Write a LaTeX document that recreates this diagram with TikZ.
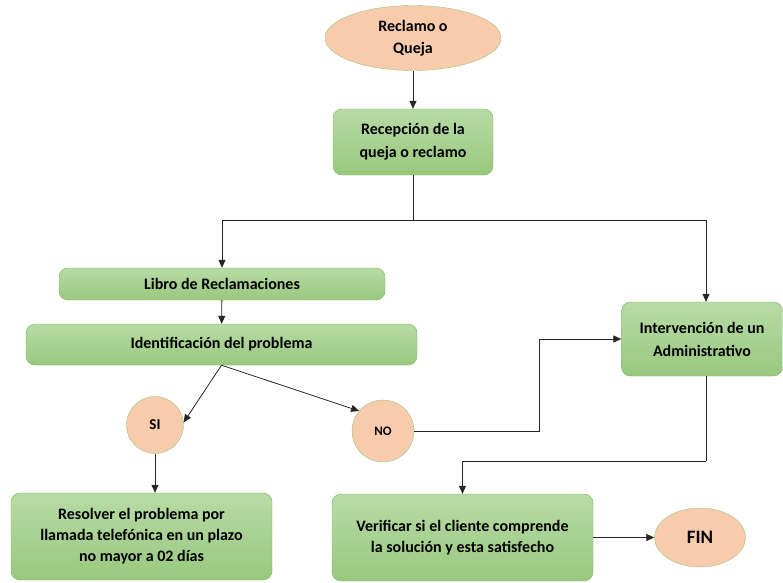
\documentclass[tikz,border=0pt]{standalone}
\usepackage{fontspec}
\setmainfont{Carlito}
\usetikzlibrary{shapes.geometric, arrows.meta, positioning}
\definecolor{procTop}{RGB}{184,219,166}
\definecolor{procBot}{RGB}{152,200,126}
\definecolor{procLine}{RGB}{122,180,90}
\definecolor{termFill}{RGB}{248,203,173}
\definecolor{termLine}{RGB}{150,200,120}

\begin{document}
\begin{tikzpicture}[
    x=1pt, y=-1pt,
    proc/.style={
      draw=procLine, rounded corners=9pt, align=center, top color=procTop,
      bottom color=procBot, font=\bfseries\fontsize{16}{21}\selectfont, inner sep=2pt
    },
    term/.style={
      ellipse, draw=termLine, fill=termFill, align=center, inner sep=0pt,
      font=\bfseries\fontsize{16}{22}\selectfont
    },
    deci/.style={
      circle, draw=termLine, fill=termFill, inner sep=0pt,
      font=\bfseries\fontsize{15}{17}\selectfont
    },
    fl/.style={-{Triangle[length=8pt, width=7pt]}, line width=0.8pt, draw=black!85},
    ln/.style={line width=0.8pt, draw=black!85}
  ]
    \useasboundingbox (0,0) rectangle (783,582);

    % --- inicio ---
    \node[term, minimum width=176pt, minimum height=65pt] (rq) at (413,38) {Reclamo o\\Queja};
    \node[proc, minimum width=160pt, minimum height=66pt, font=\bfseries\fontsize{16}{23}\selectfont] (rec) at (413,142) {Recepción de la\\queja o reclamo};
    \coordinate (split) at (413,220);

    % --- rama izquierda ---
    \node[proc, minimum width=326pt, minimum height=32pt] (lib) at (222,284) {Libro de Reclamaciones};
    \node[proc, minimum width=391pt, minimum height=41pt] (ide) at (221.5,344.5) {Identificación del problema};
    \node[deci, minimum size=57pt] (si) at (155,425) {SI};
    \node[deci, minimum size=62pt, font=\bfseries\fontsize{13}{15}\selectfont] (no) at (383,431) {NO};
    \node[proc, minimum width=261pt, minimum height=87pt] (res) at (141.5,536.5)
      {Resolver el problema por\\llamada telefónica en un plazo\\no mayor a 02 días};

    % --- rama derecha ---
    \node[proc, minimum width=161pt, minimum height=74pt, font=\bfseries\fontsize{16}{23}\selectfont] (adm) at (702,339) {Intervención de un\\Administrativo};
    \node[proc, minimum width=261pt, minimum height=87pt] (ver) at (462.5,537.5)
      {Verificar si el cliente comprende\\la solución y esta satisfecho};
    \node[term, minimum width=91pt, minimum height=59pt, font=\bfseries\fontsize{19}{22}\selectfont] (fin) at (700,537.5) {FIN};
    \coordinate (nobend) at (539,431);
    \coordinate (admbend) at (706,461);

    % --- conectores ---
    \draw[fl] (rq) -- (rec);
    \draw[ln] (rec) -- (split);
    \draw[fl] (split) -| (lib);
    \draw[fl] (split) -| ([xshift=4pt]adm.north);
    \draw[fl] (lib) -- (ide);
    \draw[fl] (ide.south) -- (si.5);
    \draw[fl] (ide.south) -- (no.140);
    \draw[fl] (si) -- (si |- res.north);
    \draw[fl] (no) -- (nobend) |- (adm);
    \draw[ln] ([xshift=4pt]adm.south) -- (admbend);
    \draw[fl] (admbend) -| (ver);
    \draw[fl] (ver) -- (fin);
  \end{tikzpicture}
\end{document}
